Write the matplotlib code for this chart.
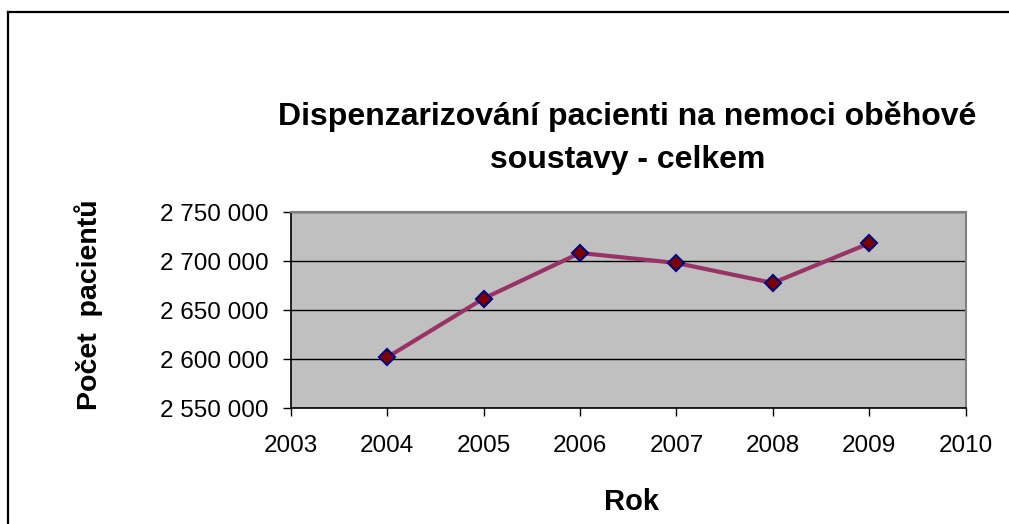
import matplotlib
matplotlib.use("Agg")
import matplotlib.pyplot as plt
from matplotlib.ticker import FuncFormatter, MultipleLocator
from matplotlib.lines import Line2D

plt.rcParams['font.family'] = ['Liberation Sans', 'DejaVu Sans']

# Data
years = [2004, 2005, 2006, 2007, 2008, 2009]
patients = [2602000, 2662000, 2708500, 2698300, 2677900, 2718400]

title = "Dispenzarizování pacienti na nemoci oběhové\nsoustavy - celkem"
xlabel = "Rok"
ylabel = "Počet  pacientů"

W, H = 1009, 524
fig = plt.figure(figsize=(W / 100, H / 100), dpi=100)
fig.patch.set_facecolor('white')

# Chart area frame (left and top edges)
fig.add_artist(Line2D([8 / W, 8 / W], [0, 1 - 12 / H], color='black', lw=1.6,
                      transform=fig.transFigure))
fig.add_artist(Line2D([8 / W, 1], [1 - 12 / H, 1 - 12 / H], color='black', lw=1.6,
                      transform=fig.transFigure))

ax = fig.add_axes([290.7 / W, 1 - 408.3 / H, (965.7 - 290.7) / W, (408.3 - 212.3) / H])
ax.set_facecolor('#C0C0C0')

ax.plot(years, patients, color='#993366', lw=3, marker='D', markersize=8,
        markerfacecolor='#800000', markeredgecolor='#000080', markeredgewidth=1.5,
        zorder=3)

ax.set_xlim(2003, 2010)
ax.set_ylim(2550000, 2750000)
ax.xaxis.set_major_locator(MultipleLocator(1))
ax.yaxis.set_major_locator(MultipleLocator(50000))
ax.yaxis.set_major_formatter(FuncFormatter(lambda v, p: f"{int(v):,}".replace(",", " ")))
ax.xaxis.set_major_formatter(FuncFormatter(lambda v, p: f"{int(round(v))}"))

ax.grid(axis='y', color='black', lw=1)
ax.set_axisbelow(True)

for side in ('top', 'right'):
    ax.spines[side].set_color('#808080')
    ax.spines[side].set_linewidth(1.5)
for side in ('left', 'bottom'):
    ax.spines[side].set_color('black')
    ax.spines[side].set_linewidth(1.2)

ax.tick_params(axis='y', direction='out', length=6, width=1, pad=10, labelsize=17.5)
ax.tick_params(axis='x', direction='out', length=6, width=1, pad=13.5, labelsize=17.5)

fig.text(627.5 / W, 1 - 138 / H, title, ha='center', va='center', fontsize=23,
         fontweight='bold', linespacing=1.55)
fig.text(89 / W, 1 - 305 / H, ylabel, ha='center', va='center', rotation=90,
         fontsize=20.5, fontweight='bold')
fig.text(631 / W, 1 - 502 / H, xlabel, ha='center', va='center', fontsize=21,
         fontweight='bold')

fig.savefig("out.png", dpi=100)
